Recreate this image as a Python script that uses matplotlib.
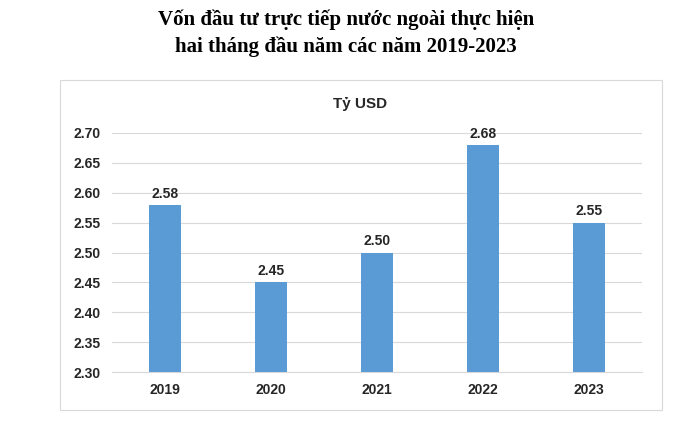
import matplotlib.pyplot as plt
from matplotlib.patches import Rectangle

years = ['2019', '2020', '2021', '2022', '2023']
values = [2.58, 2.45, 2.50, 2.68, 2.55]
yticks = [2.30, 2.35, 2.40, 2.45, 2.50, 2.55, 2.60, 2.65, 2.70]

plt.rcParams['font.family'] = ['Liberation Sans', 'DejaVu Sans']

fig = plt.figure(figsize=(6.92, 4.28), dpi=100)
W, H = 692, 428

# khung ngoài
fig.patches.append(Rectangle((60 / W, 1 - 410 / H), 602 / W, 330 / H,
                             transform=fig.transFigure, fill=False,
                             edgecolor='#d9d9d9', lw=0.8))

fig.text(0.5, 1 - 20 / H, 'Vốn đầu tư trực tiếp nước ngoài thực hiện',
         ha='center', va='center', fontsize=15, fontweight='bold',
         family=['Liberation Serif', 'DejaVu Serif'])
fig.text(0.5, 1 - 47 / H, 'hai tháng đầu năm các năm 2019-2023',
         ha='center', va='center', fontsize=15, fontweight='bold',
         family=['Liberation Serif', 'DejaVu Serif'])
fig.text(360 / W, 1 - 104 / H, 'Tỷ USD', ha='center', va='center',
         fontsize=11, fontweight='bold', color='#262626')

ax = fig.add_axes([112 / W, 1 - 372 / H, 530 / W, 239 / H])
x = range(len(years))
ax.bar(x, values, width=0.31, color='#5B9BD5', zorder=3)
for xi, v in zip(x, values):
    ax.text(xi, v + 0.007, f'{v:.2f}', ha='center', va='bottom',
            fontsize=10, fontweight='bold', color='#262626')

ax.set_ylim(2.30, 2.70)
ax.set_xlim(-0.5, len(years) - 0.5)
ax.set_yticks(yticks)
ax.set_yticklabels([f'{t:.2f}' for t in yticks], fontsize=10, fontweight='bold', color='#262626')
ax.set_xticks(list(x))
ax.set_xticklabels(years, fontsize=10, fontweight='bold', color='#262626')
ax.grid(axis='y', color='#d9d9d9', lw=0.8, zorder=0)
for s in ['top', 'right', 'left']:
    ax.spines[s].set_visible(False)
ax.spines['bottom'].set_color('#d9d9d9')
ax.tick_params(length=0, pad=8)

fig.savefig('out.png', dpi=100)
